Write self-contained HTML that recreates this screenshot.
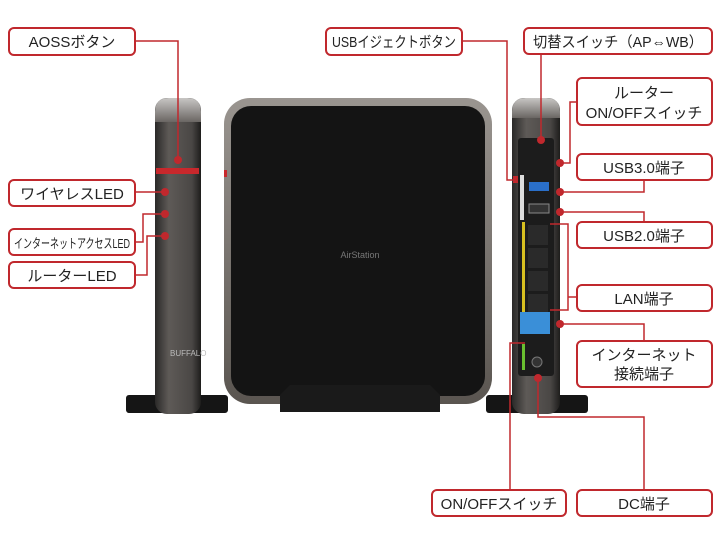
<!DOCTYPE html><html><head><meta charset="utf-8"><style>
body{margin:0;background:#fff}
svg text{font-family:"Liberation Sans","Noto Sans CJK JP",sans-serif;fill:#222}
</style></head><body>
<svg width="721" height="544" viewBox="0 0 721 544" xmlns="http://www.w3.org/2000/svg">
<defs>
<linearGradient id="top" x1="0" y1="0" x2="0" y2="1"><stop offset="0" stop-color="#c8c6c4"/><stop offset="1" stop-color="#6a6663"/></linearGradient>
<linearGradient id="body" x1="0" y1="0" x2="1" y2="0"><stop offset="0" stop-color="#2a2928"/><stop offset=".3" stop-color="#5e5a57"/><stop offset=".8" stop-color="#4a4745"/><stop offset="1" stop-color="#1e1d1c"/></linearGradient>
<linearGradient id="rim" x1="0" y1="0" x2="0" y2="1"><stop offset="0" stop-color="#9a9590"/><stop offset="1" stop-color="#5a5550"/></linearGradient>
</defs>
<!-- left device -->
<rect x="126" y="395" width="102" height="18" rx="3" fill="#151515"/>
<rect x="155" y="98" width="46" height="316" rx="12" fill="url(#body)"/>
<path d="M155 112 q0-14 14-14 h18 q14 0 14 14 v10 h-46z" fill="url(#top)"/>
<rect x="156" y="168" width="43" height="6" fill="#c8282c"/>
<text x="170" y="356" font-size="8" fill="#bbb" style="fill:#bbb">BUFFALO</text>
<!-- center device -->
<rect x="224" y="98" width="268" height="306" rx="26" fill="url(#rim)"/>
<rect x="231" y="106" width="254" height="290" rx="20" fill="#141414"/>
<text x="360" y="258" font-size="9" text-anchor="middle" style="fill:#777">AirStation</text>
<path d="M280 395 L290 385 H430 L440 395 V412 H280z" fill="#1a1a1a"/>
<rect x="224" y="170" width="3" height="7" fill="#c8282c"/>
<!-- right device -->
<rect x="486" y="395" width="102" height="18" rx="3" fill="#151515"/>
<rect x="512" y="98" width="48" height="316" rx="12" fill="url(#body)"/>
<path d="M512 112 q0-14 14-14 h20 q14 0 14 14 v6 h-48z" fill="url(#top)"/>
<rect x="518" y="138" width="36" height="238" rx="3" fill="#1c1c1c"/>
<rect x="520" y="175" width="4" height="45" fill="#ddd"/>
<rect x="529" y="182" width="20" height="9" fill="#2a6fc9"/>
<rect x="529" y="204" width="20" height="9" fill="#333" stroke="#888"/>
<rect x="522" y="222" width="3" height="90" fill="#d8c020"/>
<rect x="528" y="225" width="20" height="20" fill="#2a2a2a"/><rect x="528" y="248" width="20" height="20" fill="#2a2a2a"/>
<rect x="528" y="271" width="20" height="20" fill="#2a2a2a"/><rect x="528" y="294" width="20" height="18" fill="#2a2a2a"/>
<rect x="520" y="312" width="30" height="22" fill="#3a8fd8"/>
<rect x="522" y="344" width="3" height="26" fill="#6ac030"/>
<circle cx="537" cy="362" r="5" fill="#333" stroke="#777"/>
<!-- connectors -->
<g stroke="#c0282d" stroke-width="1.5" fill="none">
<path d="M135 41 H178 V160"/>
<path d="M135 192 H165"/>
<path d="M135 242 H143 V214 H165"/>
<path d="M135 275 H147 V236 H165"/>
<path d="M462 41 H507 V180 H515"/>
<path d="M541 54 V140"/>
<path d="M577 102 H570 V163 H560"/>
<path d="M644 180 V192 H560"/>
<path d="M644 222 V212 H560"/>
<path d="M577 297 H568 V224 H550 M568 297 V310 H550"/>
<path d="M644 341 V324 H560"/>
<path d="M510 490 V343 H525"/>
<path d="M538 378 V417 H644 V490"/>
</g>
<g fill="#c0282d">
<circle cx="178" cy="160" r="4"/><circle cx="165" cy="192" r="4"/><circle cx="165" cy="214" r="4"/><circle cx="165" cy="236" r="4"/>
<rect x="513" y="176" width="5" height="7"/><circle cx="541" cy="140" r="4"/><circle cx="560" cy="163" r="4"/>
<circle cx="560" cy="192" r="4"/><circle cx="560" cy="212" r="4"/><circle cx="560" cy="324" r="4"/><circle cx="538" cy="378" r="4"/>
</g>
<!-- label boxes -->
<g fill="#fff" stroke="#c0282d" stroke-width="2">
<rect x="9" y="28" width="126" height="27" rx="5"/>
<rect x="9" y="180" width="126" height="26" rx="5"/>
<rect x="9" y="229" width="126" height="26" rx="5"/>
<rect x="9" y="262" width="126" height="26" rx="5"/>
<rect x="326" y="28" width="136" height="27" rx="5"/>
<rect x="524" y="28" width="188" height="26" rx="5"/>
<rect x="577" y="78" width="135" height="47" rx="5"/>
<rect x="577" y="154" width="135" height="26" rx="5"/>
<rect x="577" y="222" width="135" height="26" rx="5"/>
<rect x="577" y="285" width="135" height="26" rx="5"/>
<rect x="577" y="341" width="135" height="46" rx="5"/>
<rect x="432" y="490" width="134" height="26" rx="5"/>
<rect x="577" y="490" width="135" height="26" rx="5"/>
</g>
<g font-size="15" text-anchor="middle">
<text x="72" y="47">AOSSボタン</text>
<text x="72" y="199">ワイヤレスLED</text>
<text x="72" y="248" font-size="13" textLength="116" lengthAdjust="spacingAndGlyphs">インターネットアクセスLED</text>
<text x="72" y="281">ルーターLED</text>
<text x="394" y="47" textLength="124" lengthAdjust="spacingAndGlyphs">USBイジェクトボタン</text>
<text x="618" y="47" textLength="170" lengthAdjust="spacingAndGlyphs">切替スイッチ（AP⇔WB）</text>
<text x="644" y="98">ルーター</text>
<text x="644" y="118">ON/OFFスイッチ</text>
<text x="644" y="173">USB3.0端子</text>
<text x="644" y="241">USB2.0端子</text>
<text x="644" y="304">LAN端子</text>
<text x="644" y="360">インターネット</text>
<text x="644" y="379">接続端子</text>
<text x="499" y="509">ON/OFFスイッチ</text>
<text x="644" y="509">DC端子</text>
</g>
</svg>
</body></html>
